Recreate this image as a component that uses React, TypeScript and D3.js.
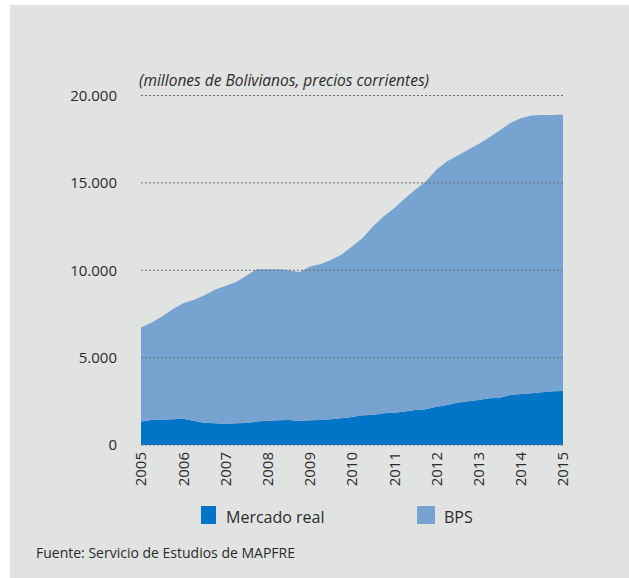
import React from "react";
import * as d3 from "d3";

const periods: string[] = [
  "2005-01-01","2005-04-01","2005-07-01","2005-10-01",
  "2006-01-01","2006-04-01","2006-07-01","2006-10-01",
  "2007-01-01","2007-04-01","2007-07-01","2007-10-01",
  "2008-01-01","2008-04-01","2008-07-01","2008-10-01",
  "2009-01-01","2009-04-01","2009-07-01","2009-10-01",
  "2010-01-01","2010-04-01","2010-07-01","2010-10-01",
  "2011-01-01","2011-04-01","2011-07-01","2011-10-01",
  "2012-01-01","2012-04-01","2012-07-01","2012-10-01",
  "2013-01-01","2013-04-01","2013-07-01","2013-10-01",
  "2014-01-01","2014-04-01","2014-07-01","2014-10-01",
  "2015-01-01",
];

const mercadoReal: number[] = [
  1340, 1430, 1450, 1470,
  1500, 1390, 1280, 1240,
  1220, 1240, 1260, 1340,
  1390, 1410, 1430, 1375,
  1410, 1430, 1470, 1530,
  1600, 1700, 1720, 1810,
  1850, 1910, 2000, 2040,
  2190, 2290, 2420, 2500,
  2580, 2670, 2710, 2860,
  2920, 2960, 3020, 3070,
  3090,
];

const bps: number[] = [
  5380, 5570, 5900, 6300,
  6610, 6910, 7270, 7640,
  7880, 8080, 8420, 8720,
  8670, 8650, 8590, 8515,
  8800, 8920, 9120, 9350,
  9760, 10130, 10780, 11260,
  11700, 12180, 12600, 13040,
  13560, 13930, 14130, 14390,
  14640, 14930, 15290, 15560,
  15780, 15900, 15860, 15810,
  15820,
];

const yTicks: number[] = [0, 5000, 10000, 15000, 20000];
const yTickLabels: string[] = ["0", "5.000", "10.000", "15.000", "20.000"];
const xYears: string[] = ["2005","2006","2007","2008","2009","2010","2011","2012","2013","2014","2015"];
const seriesNames: string[] = ["Mercado real", "BPS"];
const seriesColors: string[] = ["#0074c7", "#77a3d1"];

const W = 629;
const H = 578;
const FONT = "'Open Sans', 'Noto Sans', sans-serif";

export default function App() {
  const parse = d3.timeParse("%Y-%m-%d");
  const dates = periods.map((p) => parse(p) as Date);
  const x = d3
    .scaleTime()
    .domain([parse("2005-01-01") as Date, parse("2015-01-01") as Date])
    .range([141, 563]);
  const y = d3.scaleLinear().domain([0, 20000]).range([445, 95.5]);

  const rows = dates.map((d, i) => ({ date: d, mercado: mercadoReal[i], bps: bps[i] }));
  const stack = d3.stack<any>().keys(["mercado", "bps"]);
  const layers = stack(rows);
  const area = d3
    .area<any>()
    .x((d) => x(d.data.date))
    .y0((d) => y(d[0]))
    .y1((d) => y(d[1]));

  return (
    <svg
      width={W}
      height={H}
      style={{ position: "absolute", left: 0, top: 0, display: "block" }}
    >
      <rect x={0} y={0} width={W} height={H} fill="#ffffff" />
      <rect x={10} y={5} width={W - 10} height={H - 5} fill="#e1e2e2" />

      {layers.map((layer, i) => (
        <path key={i} d={area(layer) || ""} fill={seriesColors[i]} />
      ))}

      {yTicks.map((t, i) => (
        <g key={t}>
          <line
            x1={141}
            x2={563}
            y1={y(t)}
            y2={y(t)}
            stroke="#6d6e70"
            strokeWidth={1}
            strokeDasharray="2,2"
          />
          <text
            x={117}
            y={y(t)}
            dy="0.36em"
            textAnchor="end"
            fontFamily={FONT}
            fontSize={15}
            fill="#2b2b2b"
          >
            {yTickLabels[i]}
          </text>
        </g>
      ))}

      {xYears.map((yr) => {
        const xx = x(parse(`${yr}-01-01`) as Date);
        return (
          <text
            key={yr}
            transform={`translate(${xx},452) rotate(-90)`}
            dy="0.36em"
            textAnchor="end"
            fontFamily={FONT}
            fontSize={15}
            fill="#2b2b2b"
          >
            {yr}
          </text>
        );
      })}

      <text
        x={139}
        y={86}
        fontFamily={FONT}
        fontStyle="italic"
        fontSize={15.5}
        fill="#2b2b2b"
      >
        (millones de Bolivianos, precios corrientes)
      </text>

      <rect x={201} y={506} width={15} height={18} fill={seriesColors[0]} />
      <text x={226} y={523} fontFamily={FONT} fontSize={16} fill="#2b2b2b">
        {seriesNames[0]}
      </text>
      <rect x={417} y={506} width={18} height={18} fill={seriesColors[1]} />
      <text x={444} y={523} fontFamily={FONT} fontSize={16} fill="#2b2b2b">
        {seriesNames[1]}
      </text>

      <text x={36} y={558} fontFamily={FONT} fontSize={14} fill="#2b2b2b">
        Fuente: Servicio de Estudios de MAPFRE
      </text>
    </svg>
  );
}
